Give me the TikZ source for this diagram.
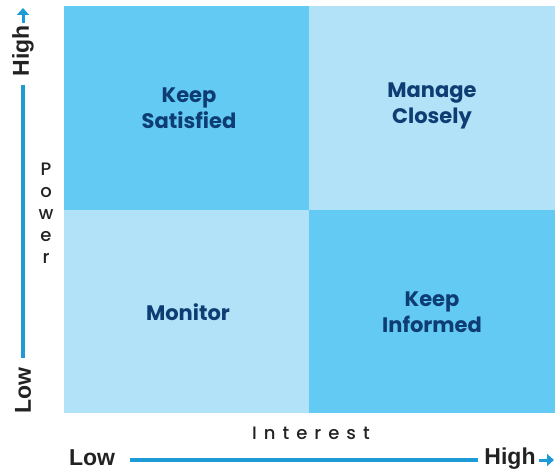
\documentclass[tikz,border=0pt]{standalone}
\usepackage{fontspec}
\setmainfont{Poppins}
\newfontfamily\medfont{Poppins Medium}
\newfontfamily\axisfont{Liberation Sans}
\usetikzlibrary{arrows.meta}
\definecolor{qdark}{HTML}{63CBF3}
\definecolor{qlight}{HTML}{B1E2F7}
\definecolor{qtext}{HTML}{0E3D73}
\definecolor{axblue}{HTML}{1E9BD7}
\definecolor{axtext}{HTML}{222222}
\tikzset{
  quad/.style={draw=none, inner sep=0pt, outer sep=0pt, minimum width=#1, anchor=north west},
  qlabel/.style={text=qtext, font=\fontsize{21}{26}\selectfont\bfseries, align=center},
  axlabel/.style={text=axtext, font=\axisfont\fontsize{23}{24}\selectfont\bfseries, inner sep=0pt},
  axline/.style={draw=axblue, line width=4pt},
  axarrow/.style={draw=axblue, line width=3pt, -{Triangle[length=7pt,width=12pt]}},
  spaced/.style={text=axtext, font=\medfont\fontsize{18}{21}\selectfont, inner sep=0pt}
}
\begin{document}
\begin{tikzpicture}[x=1pt,y=-1pt]
\useasboundingbox (0,0) rectangle (556,473);
% quadrants
\node[quad=245pt, minimum height=204pt, fill=qdark] (q1) at (64,6) {};
\node[quad=246pt, minimum height=204pt, fill=qlight] (q2) at (309,6) {};
\node[quad=245pt, minimum height=203pt, fill=qlight] (q3) at (64,210) {};
\node[quad=246pt, minimum height=203pt, fill=qdark] (q4) at (309,210) {};
\node[qlabel] (t1) at (189,108) {Keep\\Satisfied};
\node[qlabel] (t2) at (432,106) {Manage\\Closely};
\node[qlabel] (t3) at (188,312) {Monitor};
\node[qlabel] (t4) at (432,312) {Keep\\Informed};
% vertical axis
\node[axlabel, rotate=90] (vhigh) at (23,51) {High};
\node[axlabel, rotate=90] (vlow) at (23,391) {Low};
\coordinate (vtop) at (23,8);
\coordinate (vtopb) at (23,23);
\draw[axline] (vhigh.west) ++(0,8) coordinate (vl1) -- (vlow.east |- 0,358) coordinate (vl2);
\draw[axarrow] (vtopb) -- (vtop);
\node[spaced, align=center] (power) at (46,213) {P\\[1pt]o\\[1pt]w\\[1pt]e\\[1pt]r};
% horizontal axis
\node[axlabel] (hlow) at (92,458) {Low};
\node[axlabel] (hhigh) at (510,459) {High};
\coordinate (hl1) at (130,460);
\coordinate (hl2) at (478,460);
\draw[axline] (hl1) -- (hl2);
\coordinate (harr1) at (539,460);
\coordinate (harr2) at (554,460);
\draw[axarrow] (harr1) -- (harr2);
\node[spaced] (interest) at (311,433) {I\hspace{7pt}n\hspace{7pt}t\hspace{7pt}e\hspace{7pt}r\hspace{7pt}e\hspace{7pt}s\hspace{7pt}t};
\end{tikzpicture}
\end{document}
